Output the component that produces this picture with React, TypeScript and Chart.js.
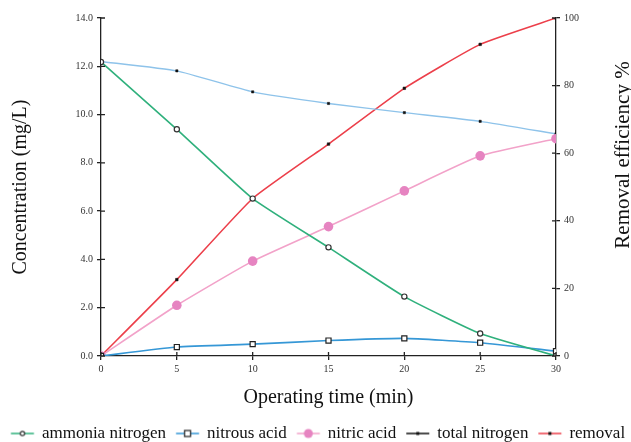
import { useEffect, useRef } from "react";
import { Chart, registerables } from "chart.js";
Chart.register(...registerables);

const times = [0, 5, 10, 15, 20, 25, 30];
const ammonia = [12.18, 9.39, 6.52, 4.5, 2.46, 0.93, 0.0];
const nitrous = [0.0, 0.37, 0.49, 0.64, 0.73, 0.55, 0.2];
const nitric = [0.0, 2.1, 3.93, 5.36, 6.84, 8.29, 9.0];
const totalN = [12.2, 11.81, 10.94, 10.46, 10.08, 9.72, 9.2];
const removal = [0, 22.6, 46.6, 62.7, 79.2, 92.2, 100];

const seriesNames = ["ammonia nitrogen", "nitrous acid", "nitric acid", "total nitrogen", "removal"];
const xTitle = "Operating time (min)";
const yTitle = "Concentration (mg/L)";
const y1Title = "Removal efficiency %";

const FONT = "'Liberation Serif', 'Times New Roman', serif";

const GREEN = "#2fb07c";
const BLUE = "#3597d6";
const PINK = "#f2a2c9";
const PINK_M = "#e684c1";
const LIGHTBLUE = "#8ec3ea";
const RED = "#ec3f4a";

// legend icon: wide transparent canvas, visible line offset so it sits just before the text
function legendIcon(kind: string): HTMLCanvasElement {
  const c = document.createElement("canvas");
  const w = 60, h = 14;
  c.width = w; c.height = h;
  const ctx = c.getContext("2d")!;
  const lineColor = { a: GREEN, n: BLUE, p: PINK, t: "#111", r: RED }[kind] as string;
  const x0 = 21.25, x1 = 44.25;
  ctx.strokeStyle = lineColor;
  ctx.lineWidth = 1.5;
  ctx.beginPath(); ctx.moveTo(x0, h / 2); ctx.lineTo(x1, h / 2); ctx.stroke();
  const cx = (x0 + x1) / 2, cy = h / 2;
  if (kind === "a") {
    ctx.fillStyle = "#fff"; ctx.strokeStyle = "#333"; ctx.lineWidth = 1.2;
    ctx.beginPath(); ctx.arc(cx, cy, 2.2, 0, Math.PI * 2); ctx.fill(); ctx.stroke();
  } else if (kind === "n") {
    ctx.fillStyle = "#fff"; ctx.strokeStyle = "#222"; ctx.lineWidth = 1.2;
    ctx.fillRect(cx - 3, cy - 3, 6, 6); ctx.strokeRect(cx - 3, cy - 3, 6, 6);
  } else if (kind === "p") {
    ctx.fillStyle = PINK_M;
    ctx.beginPath(); ctx.arc(cx, cy, 4.5, 0, Math.PI * 2); ctx.fill();
  } else {
    ctx.fillStyle = "#111"; ctx.fillRect(cx - 1.5, cy - 1.5, 3, 3);
  }
  return c;
}

const innerTicks = {
  id: "innerTicks",
  afterDraw(chart: any) {
    const ctx = chart.ctx;
    const { x, y, y1 } = chart.scales;
    const area = chart.chartArea;
    ctx.save();
    ctx.strokeStyle = "#222";
    ctx.lineWidth = 1.3;
    ctx.beginPath();
    for (const t of y.ticks) {
      const py = y.getPixelForValue(t.value);
      ctx.moveTo(area.left, py); ctx.lineTo(area.left + 4, py);
    }
    for (const t of y1.ticks) {
      const py = y1.getPixelForValue(t.value);
      ctx.moveTo(area.right, py); ctx.lineTo(area.right - 4, py);
    }
    for (const t of x.ticks) {
      const px = x.getPixelForValue(t.value);
      ctx.moveTo(px, area.bottom); ctx.lineTo(px, area.bottom - 4);
    }
    ctx.stroke();
    // right axis title, reading bottom-to-top
    ctx.fillStyle = "#111";
    ctx.font = `21px ${FONT}`;
    ctx.textAlign = "center";
    ctx.textBaseline = "middle";
    ctx.translate(623, 155);
    ctx.rotate(-Math.PI / 2);
    ctx.fillText(y1Title, 0, 0);
    ctx.restore();
  },
};

export default function App() {
  const ref = useRef<HTMLCanvasElement>(null);
  useEffect(() => {
    document.body.style.margin = "0";
    const pts = (arr: number[]) => times.map((t, i) => ({ x: t, y: arr[i] }));
    const icons = ["a", "n", "p", "t", "r"].map(legendIcon);
    const chart = new Chart(ref.current!, {
      type: "line",
      data: {
        datasets: [
          { label: seriesNames[0], data: pts(ammonia), borderColor: GREEN, borderWidth: 1.6, pointStyle: "circle", pointRadius: 2.6, pointBackgroundColor: "#fff", pointBorderColor: "#333", pointBorderWidth: 1.2, tension: 0.15, yAxisID: "y" },
          { label: seriesNames[1], data: pts(nitrous), borderColor: BLUE, borderWidth: 1.6, pointStyle: "rect", pointRadius: 3.6, pointBackgroundColor: "#fff", pointBorderColor: "#222", pointBorderWidth: 1.2, tension: 0.15, yAxisID: "y" },
          { label: seriesNames[2], data: pts(nitric), borderColor: PINK, borderWidth: 1.6, pointStyle: "circle", pointRadius: 4.8, pointBackgroundColor: PINK_M, pointBorderColor: PINK_M, pointBorderWidth: 0, tension: 0.15, yAxisID: "y" },
          { label: seriesNames[3], data: pts(totalN), borderColor: LIGHTBLUE, borderWidth: 1.4, pointStyle: "rect", pointRadius: 1.6, pointBackgroundColor: "#111", pointBorderColor: "#111", pointBorderWidth: 0.5, tension: 0.15, yAxisID: "y" },
          { label: seriesNames[4], data: pts(removal), borderColor: RED, borderWidth: 1.6, pointStyle: "rect", pointRadius: 1.8, pointBackgroundColor: "#111", pointBorderColor: "#111", pointBorderWidth: 0.5, tension: 0.15, yAxisID: "y1" },
        ],
      },
      options: {
        responsive: false,
        animation: false,
        maintainAspectRatio: false,
        layout: { padding: { top: 18, left: 0, right: 0, bottom: -10 } },
        font: { family: FONT } as any,
        plugins: {
          tooltip: { enabled: false },
          legend: {
            position: "bottom",
            labels: {
              usePointStyle: true,
              pointStyleWidth: 27.5,
              padding: 5,
              color: "#111",
              font: { family: FONT, size: 17 },
              generateLabels: (ch: any) =>
                ch.data.datasets.map((d: any, i: number) => ({
                  text: d.label,
                  pointStyle: icons[i],
                  fillStyle: "transparent",
                  strokeStyle: "transparent",
                  lineWidth: 0,
                  datasetIndex: i,
                  fontColor: "#111",
                })),
            },
          },
        },
        scales: {
          x: {
            type: "linear",
            min: 0,
            max: 30,
            border: { color: "#222", width: 1.3 },
            grid: { display: true, drawOnChartArea: false, tickLength: 4, color: "#222", lineWidth: 1.3 },
            ticks: { stepSize: 5, color: "#333", font: { family: FONT, size: 10 }, padding: 3 },
            title: { display: true, text: xTitle, color: "#111", font: { family: FONT, size: 20 }, padding: { top: 3, bottom: 10 } },
            afterFit: (s: any) => { s.height = 64; },
          },
          y: {
            position: "left",
            min: 0,
            max: 14,
            border: { color: "#222", width: 1.3 },
            grid: { display: true, drawOnChartArea: false, tickLength: 4, color: "#222", lineWidth: 1.3 },
            ticks: { stepSize: 2, color: "#333", font: { family: FONT, size: 10 }, padding: 4, callback: (v: any) => Number(v).toFixed(1) },
            title: { display: true, text: yTitle, color: "#111", font: { family: FONT, size: 20 }, padding: { top: 9, bottom: 20 } },
            afterFit: (s: any) => { s.width = 101; },
          },
          y1: {
            position: "right",
            min: 0,
            max: 100,
            border: { color: "#222", width: 1.3 },
            grid: { display: true, drawOnChartArea: false, tickLength: 4, color: "#222", lineWidth: 1.3 },
            ticks: { stepSize: 20, color: "#333", font: { family: FONT, size: 10 }, padding: 4 },
            afterFit: (s: any) => { s.width = 75; },
          },
        },
      },
      plugins: [innerTicks],
    });
    return () => chart.destroy();
  }, []);
  return (
    <div style={{ position: "absolute", left: 0, top: 0, width: 631, height: 442, background: "#fff" }}>
      <canvas ref={ref} width={631} height={442} style={{ width: 631, height: 442 }} />
    </div>
  );
}
